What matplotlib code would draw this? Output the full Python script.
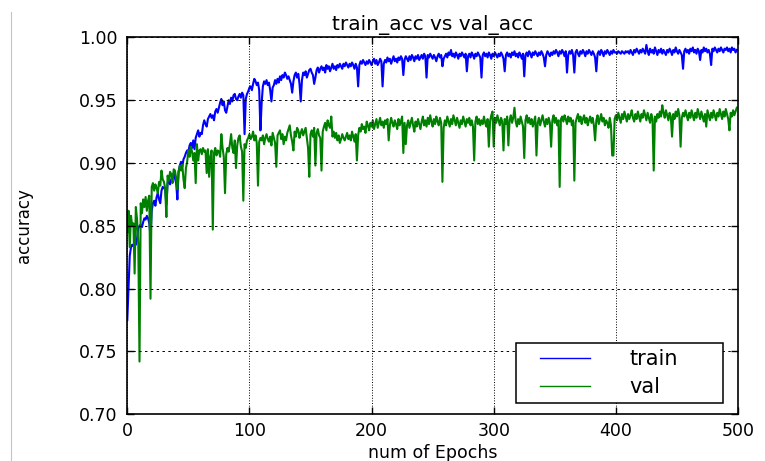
import numpy as np
import matplotlib
matplotlib.use("Agg")
import matplotlib.pyplot as plt
from matplotlib.lines import Line2D
from matplotlib.legend_handler import HandlerLine2D

title = "train_acc vs val_acc"
x_label = "num of Epochs"
y_label = "accuracy"
series_names = ["train", "val"]
x_ticks = [0, 100, 200, 300, 400, 500]
y_ticks = [0.70, 0.75, 0.80, 0.85, 0.90, 0.95, 1.00]

train_acc = [
    .775, .800, .826, .833, .835, .834, .836, .835, .840, .848,
    .850, .851, .849, .853, .856, .855, .858, .856, .852, .842,
    .862, .868, .870, .866, .873, .876, .871, .868, .878, .881,
    .880, .879, .867, .884, .886, .883, .887, .889, .892, .888,
    .884, .871, .893, .898, .901, .897, .903, .905, .908, .910,
    .909, .914, .916, .912, .918, .911, .920, .923, .926, .921,
    .924, .923, .930, .934, .931, .929, .935, .937, .939, .936,
    .938, .934, .941, .943, .940, .944, .948, .951, .946, .949,
    .942, .940, .945, .950, .947, .952, .949, .954, .955, .951,
    .950, .953, .955, .952, .956, .954, .923, .951, .955, .957,
    .960, .961, .958, .963, .967, .965, .962, .964, .958, .926,
    .948, .961, .965, .963, .966, .962, .964, .958, .949, .960,
    .962, .966, .963, .967, .964, .969, .966, .970, .968, .972,
    .970, .967, .969, .966, .963, .956, .965, .970, .972, .968,
    .971, .963, .949, .966, .972, .970, .973, .968, .971, .974,
    .975, .972, .970, .963, .968, .974, .976, .972, .975, .977,
    .974, .976, .972, .978, .975, .977, .973, .976, .979, .975,
    .977, .974, .978, .976, .979, .977, .975, .979, .977, .980,
    .978, .976, .979, .977, .980, .978, .975, .979, .976, .961,
    .978, .981, .979, .982, .980, .978, .981, .979, .982, .980,
    .978, .981, .983, .979, .982, .978, .980, .983, .981, .961,
    .979, .982, .980, .984, .981, .983, .979, .982, .985, .981,
    .983, .980, .984, .982, .985, .983, .970, .982, .985, .983,
    .981, .985, .982, .986, .984, .981, .985, .983, .986, .982,
    .984, .986, .983, .987, .985, .968, .986, .984, .987, .985,
    .983, .986, .984, .981, .985, .987, .984, .986, .977, .983,
    .985, .987, .984, .988, .986, .990, .985, .987, .984, .988,
    .986, .983, .987, .985, .988, .986, .984, .987, .973, .985,
    .987, .984, .988, .986, .983, .987, .985, .988, .986, .984,
    .968, .986, .988, .985, .987, .984, .988, .986, .983, .987,
    .985, .988, .986, .984, .987, .985, .988, .986, .983, .973,
    .986, .988, .985, .987, .984, .988, .986, .989, .985, .987,
    .984, .988, .986, .983, .987, .969, .986, .988, .985, .989,
    .987, .984, .988, .986, .989, .987, .985, .988, .986, .989,
    .987, .984, .977, .986, .989, .987, .985, .988, .986, .989,
    .987, .990, .988, .985, .989, .987, .990, .988, .985, .989,
    .972, .986, .989, .987, .990, .986, .972, .988, .990, .987,
    .985, .989, .987, .990, .988, .985, .989, .987, .990, .988,
    .986, .989, .987, .984, .973, .987, .989, .986, .990, .988,
    .985, .989, .987, .990, .988, .986, .989, .987, .990, .988,
    .988, .987, .989, .988, .987, .989, .988, .987, .989, .988,
    .989, .987, .990, .988, .986, .990, .988, .991, .989, .987,
    .990, .988, .991, .989, .987, .994, .989, .986, .991, .988,
    .990, .987, .992, .989, .986, .990, .988, .991, .987, .990,
    .988, .986, .990, .988, .991, .989, .986, .990, .988, .992,
    .989, .987, .990, .988, .986, .975, .989, .991, .988, .990,
    .987, .991, .989, .992, .988, .990, .987, .991, .989, .982,
    .990, .988, .992, .989, .991, .988, .990, .987, .978, .991,
    .989, .992, .990, .988, .991, .989, .992, .990, .988, .991,
    .990, .992, .989, .991, .988, .992, .990, .991, .988, .990,
]

val_acc = [
    .845, .862, .833, .858, .850, .852, .812, .865, .855, .836,
    .742, .868, .860, .871, .865, .873, .862, .870, .874, .792,
    .881, .884, .878, .883, .880, .876, .885, .882, .894, .887,
    .885, .880, .857, .890, .886, .893, .891, .884, .895, .894,
    .888, .879, .893, .898, .894, .899, .887, .880, .896, .901,
    .910, .905, .913, .909, .902, .908, .884, .915, .902, .910,
    .911, .907, .912, .909, .910, .892, .911, .889, .905, .910,
    .847, .908, .912, .906, .910, .909, .905, .923, .912, .905,
    .876, .907, .912, .909, .915, .923, .912, .908, .918, .896,
    .914, .920, .922, .913, .909, .870, .915, .912, .918, .920,
    .923, .919, .921, .925, .918, .922, .916, .882, .917, .920,
    .918, .922, .915, .920, .923, .919, .917, .921, .914, .924,
    .920, .916, .897, .922, .924, .926, .919, .923, .915, .921,
    .918, .924, .927, .930, .922, .917, .910, .925, .921, .928,
    .926, .920, .924, .927, .922, .925, .928, .920, .912, .889,
    .923, .926, .921, .928, .898, .924, .927, .922, .920, .894,
    .925, .929, .932, .926, .934, .930, .928, .937, .921, .925,
    .920, .924, .918, .922, .916, .919, .923, .920, .918, .921,
    .924, .919, .922, .918, .925, .921, .917, .923, .902, .922,
    .928, .925, .931, .927, .929, .924, .933, .930, .926, .932,
    .929, .934, .927, .931, .935, .928, .932, .936, .930, .933,
    .928, .934, .931, .935, .918, .930, .936, .932, .929, .934,
    .931, .927, .935, .930, .933, .937, .908, .932, .915, .930,
    .934, .928, .932, .936, .930, .925, .933, .929, .935, .931,
    .927, .933, .937, .930, .934, .929, .936, .931, .938, .933,
    .929, .935, .931, .937, .933, .930, .936, .932, .885, .928,
    .934, .930, .937, .933, .929, .935, .931, .938, .934, .930,
    .936, .932, .928, .934, .931, .937, .933, .929, .935, .932,
    .936, .930, .934, .929, .902, .933, .937, .931, .935, .930,
    .934, .931, .937, .932, .929, .935, .913, .933, .938, .941,
    .913, .936, .932, .938, .934, .930, .936, .933, .910, .935,
    .931, .937, .914, .934, .938, .932, .936, .944, .933, .929,
    .935, .931, .937, .933, .929, .904, .934, .938, .932, .936,
    .931, .935, .929, .933, .937, .906, .932, .936, .930, .934,
    .938, .933, .929, .935, .931, .936, .932, .913, .934, .938,
    .932, .936, .930, .934, .881, .935, .937, .933, .938, .935,
    .931, .937, .933, .936, .930, .934, .886, .932, .936, .939,
    .933, .937, .931, .935, .938, .932, .936, .930, .934, .937,
    .932, .936, .930, .918, .934, .938, .931, .935, .939, .933,
    .936, .930, .934, .932, .928, .936, .930, .906, .906, .935,
    .938, .934, .940, .936, .932, .939, .935, .941, .937, .933,
    .939, .935, .938, .942, .936, .933, .939, .935, .941, .937,
    .933, .939, .936, .942, .938, .934, .940, .936, .932, .939,
    .935, .894, .937, .933, .939, .936, .941, .937, .946, .940,
    .936, .942, .938, .934, .940, .937, .921, .939, .935, .941,
    .937, .943, .938, .913, .936, .940, .937, .942, .938, .934,
    .940, .936, .942, .938, .934, .940, .936, .943, .939, .935,
    .941, .937, .933, .939, .929, .942, .938, .934, .940, .936,
    .942, .938, .934, .940, .937, .943, .939, .935, .941, .937,
    .943, .939, .935, .926, .940, .937, .942, .938, .941, .944,
]

epochs = np.arange(len(train_acc))

fig = plt.figure(figsize=(7.65, 4.61), dpi=100, facecolor="white")
ax = fig.add_axes([0.1664, 0.1013, 0.7983, 0.8176])

ax.plot(epochs, train_acc, color=(0, 0, 1), lw=1.5, label=series_names[0])
ax.plot(epochs, val_acc, color=(0, 0.5, 0), lw=1.5, label=series_names[1])

ax.set_xlim(0, 500)
ax.set_ylim(0.70, 1.00)
ax.set_xticks(x_ticks)
ax.set_yticks(y_ticks)
ax.set_yticklabels(["%.2f" % v for v in y_ticks])
ax.tick_params(axis="both", direction="in", top=True, right=True,
               length=5, width=1, labelsize=12.5, colors="black")
ax.tick_params(axis="x", pad=5.5)
ax.tick_params(axis="y", pad=7)
for s in ax.spines.values():
    s.set_linewidth(1.2)
    s.set_color("black")

ax.xaxis.grid(True, color="black", lw=0.7, linestyle=(0, (1.0, 1.7)))
ax.yaxis.grid(True, color="black", lw=0.7, linestyle=(0, (2.5, 3.5)))
ax.set_axisbelow(False)

ax.set_title(title, fontsize=14.5, pad=5)
ax.set_xlabel(x_label, fontsize=12.5)
ax.set_ylabel(y_label, fontsize=12)
ax.xaxis.set_label_coords(0.5, -0.078)
ax.yaxis.set_label_coords(-0.154, 0.5)

leg = ax.legend(loc="center", bbox_to_anchor=(0.636, 0.0273, 0.339, 0.1645),
                mode="expand", borderaxespad=0, fontsize=15,
                borderpad=0.31, labelspacing=0.375, handlelength=3.25,
                handletextpad=1.88, fancybox=False, framealpha=1,
                handler_map={Line2D: HandlerLine2D(xpad=0.84)})
leg.get_frame().set_edgecolor("black")
leg.get_frame().set_linewidth(1.1)
for ln in leg.get_lines():
    ln.set_linewidth(1.0)

fig.add_artist(Line2D([10.7 / 765, 10.7 / 765], [0, 1 - 12 / 461],
                      transform=fig.transFigure, color="#c4c4c4", lw=0.8))

fig.savefig("out.png", dpi=100, facecolor="white")
